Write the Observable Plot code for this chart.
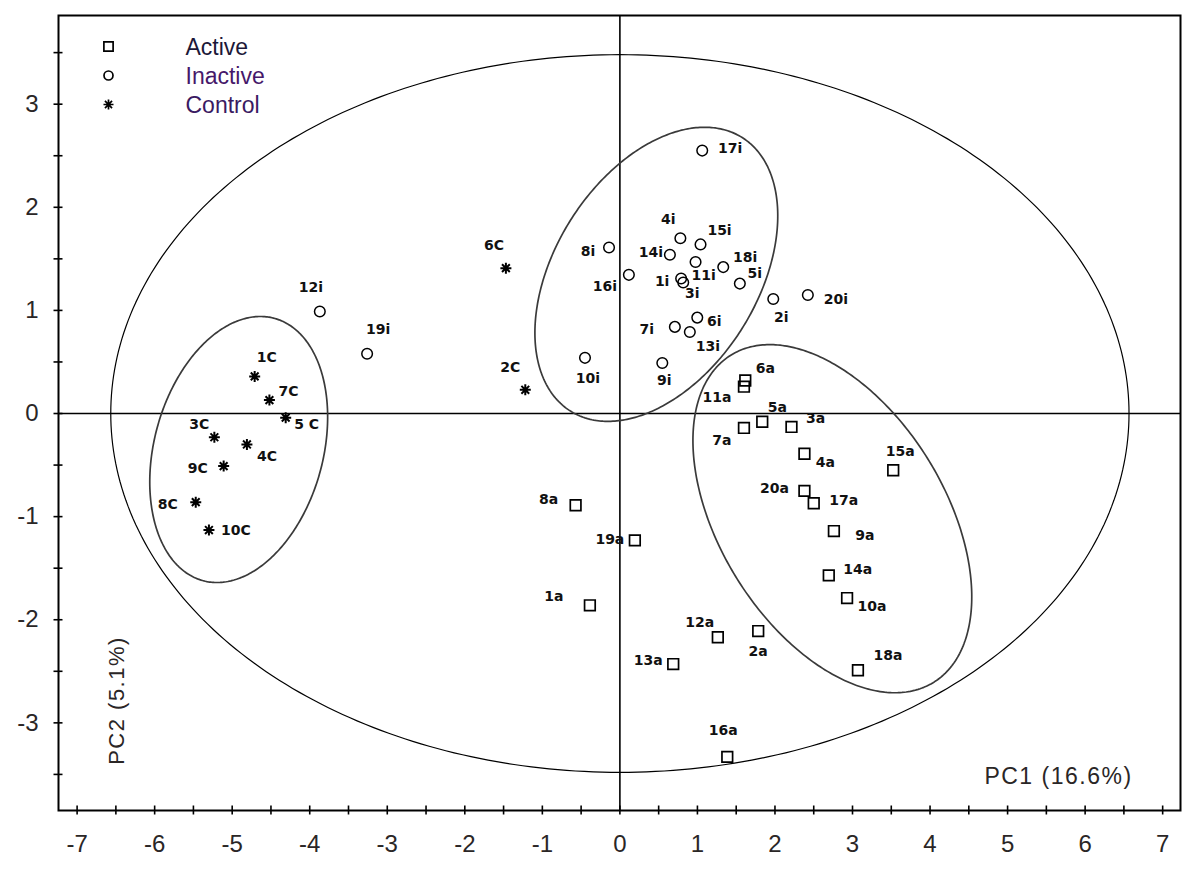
<!DOCTYPE html>
<html><head><meta charset="utf-8">
<script src="https://cdn.jsdelivr.net/npm/d3@7"></script>
<script src="https://cdn.jsdelivr.net/npm/@observablehq/plot@0.6"></script>
<style>
body{margin:0;background:#fff;}
#chart{width:1200px;height:872px;}
</style>
</head><body><div id="chart"></div>
<script>
// ---------- data ----------
const activeNames = ["1a","2a","3a","4a","5a","6a","7a","8a","9a","10a","11a","12a","13a","14a","15a","16a","17a","18a","19a","20a"];
const activeX = [-0.387,1.784,2.213,2.38,1.836,1.617,1.60,-0.571,2.76,2.93,1.60,1.263,0.688,2.694,3.525,1.385,2.50,3.07,0.193,2.38];
const activeY = [-1.86,-2.11,-0.13,-0.39,-0.08,0.32,-0.14,-0.89,-1.14,-1.79,0.26,-2.17,-2.43,-1.57,-0.55,-3.33,-0.87,-2.49,-1.23,-0.75];

const inactiveNames = ["1i","2i","3i","4i","5i","6i","7i","8i","9i","10i","11i","12i","13i","14i","15i","16i","17i","18i","19i","20i"];
const inactiveX = [0.79,1.978,0.817,0.78,1.547,0.998,0.709,-0.14,0.547,-0.45,0.976,-3.87,0.902,0.645,1.04,0.116,1.062,1.333,-3.26,2.424];
const inactiveY = [1.31,1.11,1.27,1.70,1.26,0.93,0.84,1.61,0.49,0.54,1.47,0.99,0.79,1.54,1.64,1.345,2.55,1.42,0.58,1.15];

const controlNames = ["1C","2C","3C","4C","5 C","6C","7C","8C","9C","10C"];
const controlX = [-4.71,-1.22,-5.23,-4.81,-4.31,-1.47,-4.52,-5.47,-5.11,-5.30];
const controlY = [0.36,0.23,-0.23,-0.30,-0.04,1.41,0.13,-0.86,-0.51,-1.13];

// group ellipses: centre, half-extents and correlation
const ellipseNames = ["Control","Inactive","Active","All"];
const ellipseCx = [-4.916,0.47,2.74,0];
const ellipseCy = [-0.349,1.35,-1.02,0];
const ellipseSx = [1.147,1.566,1.798,6.566];
const ellipseSy = [1.290,1.426,1.688,3.48];
const ellipseR  = [0.244,0.398,-0.449,0];

const categories = ["Active","Inactive","Control"];
const xTicks = [-7,-6,-5,-4,-3,-2,-1,0,1,2,3,4,5,6,7];
const yTicks = [-3,-2,-1,0,1,2,3];
const xLabel = "PC1 (16.6%)";
const yLabel = "PC2 (5.1%)";

// ---------- label placement (pixel offsets) ----------
const activeLabelOff = [[-36,-9],[0,20],[24,-8],[21,9],[15,-14],[20,-12],[-22,13],[-27,-6],[31,4],[25,8],[-27,11],[-18,-15],[-25,-4],[29,-6],[7,-19],[-4,-26],[30,-3],[30,-15],[-25,-1],[-30,-2]];
const inactiveLabelOff = [[-19,3],[8,18],[9,11],[-12,-19],[15,-10],[17,4],[-28,3],[-21,4],[2,18],[3,21],[8,14],[-9,-24],[18,14],[-19,-2],[19,-14],[-24,12],[28,-2],[22,-10],[11,-24],[28,5]];
const controlLabelOff = [[12,-19],[-15,-22],[-15,-13],[20,12],[21,7],[-12,-23],[19,-9],[-28,2],[-26,2],[27,0]];

// ---------- build ----------
const mk = (names, xs, ys, offs) => names.map((n,i)=>({name:n, x:xs[i], y:ys[i], dx:offs[i][0], dy:offs[i][1]}));
const active = mk(activeNames, activeX, activeY, activeLabelOff);
const inactive = mk(inactiveNames, inactiveX, inactiveY, inactiveLabelOff);
const control = mk(controlNames, controlX, controlY, controlLabelOff);

const ellipsePts = [];
ellipseNames.forEach((name,k)=>{
  const n = 360, r = ellipseR[k], q = Math.sqrt(1 - r*r);
  for (let i=0;i<=n;i++){
    const t = 2*Math.PI*i/n;
    ellipsePts.push({name,
      x: ellipseCx[k] + ellipseSx[k]*Math.cos(t),
      y: ellipseCy[k] + ellipseSy[k]*(r*Math.cos(t) + q*Math.sin(t))});
  }
});

const asterisk8 = {
  draw(context, size){
    const r = Math.sqrt(size/Math.PI), d = r*Math.SQRT1_2;
    context.moveTo(-r,0); context.lineTo(r,0);
    context.moveTo(0,-r); context.lineTo(0,r);
    context.moveTo(-d,-d); context.lineTo(d,d);
    context.moveTo(-d,d); context.lineTo(d,-d);
  }
};
const symbolFor = {Active:"square", Inactive:"circle", Control: asterisk8};
const legendColor = {Active:"#1c1838", Inactive:"#46186a", Control:"#3a1a62"};
const legendR = {Active:5.2, Inactive:4.5, Control:5};

const labelFont = {fontFamily:"DejaVu Sans", fontWeight:"bold", fontSize:14, fill:"#111"};
const labelMarks = [...active, ...inactive, ...control].map(d =>
  Plot.text([d], {x:"x", y:"y", text:"name", dx:d.dx, dy:d.dy, ...labelFont}));

const legendMarks = categories.flatMap((c,i)=>[
  Plot.dot([c], {frameAnchor:"top-left", dx:50, dy:31+i*29, symbol:symbolFor[c], r:legendR[c], stroke:"#000", strokeWidth:1.7, fill:"none"}),
  Plot.text([c], {frameAnchor:"top-left", dx:127, dy:32+i*29, text:d=>d, textAnchor:"start", lineAnchor:"middle", fontSize:23, fill:legendColor[c]})
]);

const chart = Plot.plot({
  width:1200, height:872,
  marginLeft:58, marginRight:20, marginTop:15, marginBottom:62,
  style:{fontFamily:"Liberation Sans, Arial, sans-serif", fontSize:"24px", color:"#2a2626", background:"#fff"},
  x:{domain:[-7.24,7.23]},
  y:{domain:[-3.85,3.86]},
  marks:[
    Plot.ruleX([0], {stroke:"#000", strokeWidth:1.6}),
    Plot.ruleY([0], {stroke:"#000", strokeWidth:1.6}),
    Plot.line(ellipsePts.filter(d=>d.name==="All"), {x:"x", y:"y", stroke:"#000", strokeWidth:1.2}),
    Plot.line(ellipsePts.filter(d=>d.name!=="All"), {x:"x", y:"y", z:"name", stroke:"#3a3a3a", strokeWidth:1.7}),
    Plot.dot(active, {x:"x", y:"y", symbol:"square", r:6, stroke:"#000", strokeWidth:1.7, fill:"none"}),
    Plot.dot(inactive, {x:"x", y:"y", symbol:"circle", r:5.3, stroke:"#000", strokeWidth:1.5, fill:"none"}),
    Plot.dot(control, {x:"x", y:"y", symbol:asterisk8, r:5.5, stroke:"#000", strokeWidth:2}),
    ...labelMarks,
    ...legendMarks,
    // axes: half-unit tick marks crossing the frame, integer labels
    Plot.axisX({ticks:d3.range(-7,7.01,0.5), tickSize:9, dy:-4.5, tickFormat:()=>"", label:null, stroke:"#000", strokeWidth:1.6}),
    Plot.axisX({ticks:xTicks, tickSize:0, tickPadding:24, label:null, fontSize:24, tickFormat:d=>String(d)}),
    Plot.axisY({ticks:d3.range(-3.5,3.51,0.5), tickSize:9, dx:4.5, tickFormat:()=>"", label:null, stroke:"#000", strokeWidth:1.6}),
    Plot.axisY({ticks:yTicks, tickSize:0, tickPadding:20, label:null, fontSize:24, tickFormat:d=>String(d)}),
    Plot.text([xLabel], {frameAnchor:"bottom-right", dx:-122, dy:-34, text:d=>d, textAnchor:"middle", lineAnchor:"middle", fontSize:23, fill:"#2a2626"}),
    Plot.text([yLabel], {frameAnchor:"bottom-left", dx:58, dy:-110, text:d=>d, rotate:-90, textAnchor:"middle", lineAnchor:"middle", fontSize:22, fill:"#2a2626"}),
    Plot.frame({stroke:"#000", strokeWidth:2})
  ]
});
document.getElementById("chart").appendChild(chart);
d3.select(chart).selectAll("text").filter(function(){ const t=this.textContent; return t===xLabel || t===yLabel; })
  .attr("letter-spacing", "1.5px");
</script>
</body></html>
